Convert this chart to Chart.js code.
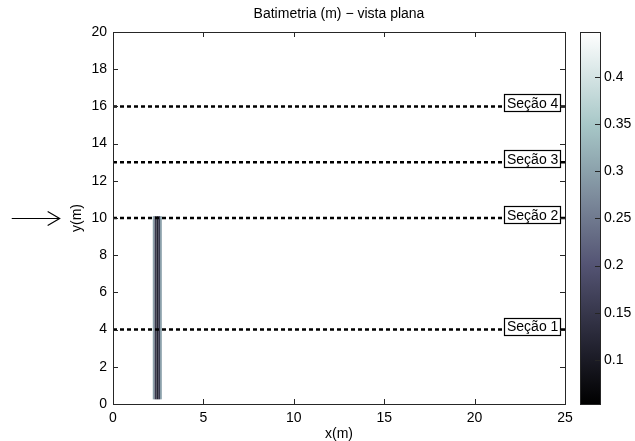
<!DOCTYPE html>
<html>
<head>
<meta charset="utf-8">
<script src="https://cdn.jsdelivr.net/npm/chart.js@4.4.1/dist/chart.umd.min.js"></script>
<style>
body{margin:0;background:#fff}
canvas{position:absolute;left:0;top:0}
</style>
</head>
<body>
<canvas id="main" width="635" height="441"></canvas>
<canvas id="cbar" width="635" height="441"></canvas>
<script>
// eixos
var xTicks = [0, 5, 10, 15, 20, 25];
var yTicks = [0, 2, 4, 6, 8, 10, 12, 14, 16, 18, 20];
// linhas das secoes
var secoes = ['Seção 1', 'Seção 2', 'Seção 3', 'Seção 4'];
var secoesY = [4, 10, 13, 16];
// estaca (colunas em x, profundidade em m)
var estacaX = [2.25, 2.35, 2.45, 2.55, 2.65];
var estacaProf = [0.3, 0.15, 0.12, 0.15, 0.3];
var estacaY = [0.25, 10.1];
// barra de cores
var cbTicks = [0.1, 0.15, 0.2, 0.25, 0.3, 0.35, 0.4];
var cbLim = [0.053, 0.448];
// seta do escoamento
var setaX = [-5.6, -2.95];
var setaY = 10;

var titulo = 'Batimetria (m) \u2212 vista plana';
var rotuloX = 24.75;
var fonte = 'Arial, "Liberation Sans", sans-serif';
var corEixo = '#262626';

function bone(t) {
    t = Math.min(1, Math.max(0, t));
    var hr = Math.min(1, t / 0.375);
    var hg = Math.min(1, Math.max(0, (t - 0.375) / 0.375));
    var hb = Math.min(1, Math.max(0, (t - 0.75) / 0.25));
    var r = (7 * t + hb) / 8, g = (7 * t + hg) / 8, b = (7 * t + hr) / 8;
    return 'rgb(' + Math.round(r * 255) + ',' + Math.round(g * 255) + ',' + Math.round(b * 255) + ')';
}
function norm(v) { return (v - cbLim[0]) / (cbLim[1] - cbLim[0]); }

// desenha caixa e ticks para dentro (estilo matlab)
function caixa(chart, lados) {
    var ctx = chart.ctx, a = chart.chartArea;
    ctx.save();
    ctx.strokeStyle = corEixo;
    ctx.lineWidth = 1;
    ctx.strokeRect(Math.round(a.left) + 0.5, Math.round(a.top) + 0.5, Math.round(a.right - a.left), Math.round(a.bottom - a.top));
    ctx.beginPath();
    var tl = 5;
    if (lados.x) {
        chart.scales.x.ticks.forEach(function (t) {
            var p = Math.round(chart.scales.x.getPixelForValue(t.value)) + 0.5;
            ctx.moveTo(p, a.bottom); ctx.lineTo(p, a.bottom - tl);
            ctx.moveTo(p, a.top); ctx.lineTo(p, a.top + tl);
        });
    }
    var ys = chart.scales.y;
    ys.ticks.forEach(function (t) {
        var p = Math.round(ys.getPixelForValue(t.value)) + 0.5;
        if (lados.esq) { ctx.moveTo(a.left, p); ctx.lineTo(a.left + tl, p); }
        ctx.moveTo(a.right, p); ctx.lineTo(a.right - tl, p);
    });
    ctx.stroke();
    ctx.restore();
}

var estacaPlugin = {
    id: 'estaca',
    beforeDatasetsDraw: function (chart) {
        var ctx = chart.ctx, xs = chart.scales.x, ys = chart.scales.y;
        var dx = estacaX[1] - estacaX[0];
        var y0 = ys.getPixelForValue(estacaY[1]), y1 = ys.getPixelForValue(estacaY[0]);
        ctx.save();
        estacaX.forEach(function (x, i) {
            var x0 = xs.getPixelForValue(x - dx / 2), x1 = xs.getPixelForValue(x + dx / 2);
            ctx.fillStyle = bone(norm(estacaProf[i]));
            ctx.fillRect(x0, y0, x1 - x0, y1 - y0);
        });
        ctx.restore();
    },
    afterDatasetsDraw: function (chart) {
        var ctx = chart.ctx, xs = chart.scales.x, ys = chart.scales.y;
        ctx.save();
        ctx.font = '14px ' + fonte;
        ctx.textBaseline = 'middle';
        secoes.forEach(function (s, i) {
            var py = ys.getPixelForValue(secoesY[i]);
            var right = Math.round(xs.getPixelForValue(rotuloX));
            var w = ctx.measureText(s).width;
            var left = Math.round(right - w - 5);
            ctx.fillStyle = '#fff';
            ctx.fillRect(left, py - 11, right - left, 17);
            ctx.strokeStyle = '#000';
            ctx.lineWidth = 1.2;
            ctx.strokeRect(left + 0.5, Math.round(py) - 11.5, right - left, 17);
            ctx.fillStyle = '#000';
            ctx.fillText(s, left + 3, py - 2);
        });
        ctx.restore();
    },
    afterDraw: function (chart) {
        caixa(chart, { x: true, esq: true });
        var ctx = chart.ctx, xs = chart.scales.x, ys = chart.scales.y, a = chart.chartArea;
        ctx.save();
        // titulo centrado sobre a area do grafico
        ctx.font = '14px ' + fonte;
        ctx.fillStyle = '#000';
        ctx.textAlign = 'center';
        ctx.textBaseline = 'middle';
        ctx.fillText(titulo, (a.left + a.right) / 2, 14);
        // seta
        var x0 = xs.getPixelForValue(setaX[0]), x1 = xs.getPixelForValue(setaX[1]);
        var py = Math.round(ys.getPixelForValue(setaY)) + 0.5;
        ctx.strokeStyle = '#000';
        ctx.lineWidth = 1.2;
        ctx.beginPath();
        ctx.moveTo(x0, py); ctx.lineTo(x1, py);
        ctx.moveTo(x1 - 12, py - 7); ctx.lineTo(x1, py); ctx.lineTo(x1 - 12, py + 7);
        ctx.stroke();
        ctx.restore();
    }
};

var datasets = secoesY.map(function (y, i) {
    return {
        label: secoes[i],
        data: [{ x: xTicks[0], y: y }, { x: xTicks[xTicks.length - 1], y: y }],
        showLine: true,
        borderColor: '#000',
        borderWidth: 2.5,
        borderDash: [4, 3],
        pointRadius: 0
    };
});

var ctx = document.getElementById('main').getContext('2d');
var chart = new Chart(ctx, {
    type: 'scatter',
    data: { datasets: datasets },
    options: {
        responsive: false,
        animation: false,
        layout: { padding: { left: 68, right: 70, top: 32, bottom: 0 } },
        plugins: {
            legend: { display: false },
            tooltip: { enabled: false },
            title: { display: false }
        },
        scales: {
            x: {
                type: 'linear', min: 0, max: 25,
                afterBuildTicks: function (s) { s.ticks = xTicks.map(function (v) { return { value: v }; }); },
                afterFit: function (s) { s.height = 37; },
                grid: { display: false, drawTicks: false },
                border: { display: false },
                ticks: { color: '#000', padding: 6, font: { family: fonte, size: 14 }, maxRotation: 0 },
                title: { display: true, text: 'x(m)', color: '#000', padding: 0, font: { family: fonte, size: 14, lineHeight: 1 } }
            },
            y: {
                type: 'linear', min: 0, max: 20,
                afterBuildTicks: function (s) { s.ticks = yTicks.map(function (v) { return { value: v }; }); },
                afterFit: function (s) { s.width = 45; },
                grid: { display: false, drawTicks: false },
                border: { display: false },
                ticks: { color: '#000', padding: 6, font: { family: fonte, size: 14 } },
                title: { display: true, text: 'y(m)', color: '#000', padding: { top: 2, bottom: 0 }, font: { family: fonte, size: 14, lineHeight: 1 } }
            }
        }
    },
    plugins: [estacaPlugin]
});

// barra de cores
var cbPlugin = {
    id: 'cbcaixa',
    afterDraw: function (c) { caixa(c, { x: false, esq: false }); }
};
var ctx1 = document.getElementById('cbar').getContext('2d');
var cbar = new Chart(ctx1, {
    type: 'bar',
    data: {
        labels: ['prof'],
        datasets: [{
            data: [[cbLim[0], cbLim[1]]],
            borderWidth: 0,
            barPercentage: 1,
            categoryPercentage: 1,
            backgroundColor: function (c) {
                var a = c.chart.chartArea;
                if (!a) return '#888';
                var g = c.chart.ctx.createLinearGradient(0, a.bottom, 0, a.top);
                for (var k = 0; k <= 16; k++) g.addColorStop(k / 16, bone(k / 16));
                return g;
            }
        }]
    },
    options: {
        responsive: false,
        animation: false,
        layout: { padding: { left: 580, right: 0, top: 32, bottom: 37 } },
        plugins: { legend: { display: false }, tooltip: { enabled: false } },
        scales: {
            x: { display: false },
            y: {
                position: 'right',
                min: cbLim[0], max: cbLim[1],
                afterBuildTicks: function (s) { s.ticks = cbTicks.map(function (v) { return { value: v }; }); },
                afterFit: function (s) { s.width = 35; },
                grid: { display: false, drawTicks: false },
                border: { display: false },
                ticks: {
                    color: '#000', padding: 4, font: { family: fonte, size: 14 },
                    callback: function (v) { return String(+v.toFixed(2)); }
                }
            }
        }
    },
    plugins: [cbPlugin]
});
</script>
</body>
</html>
